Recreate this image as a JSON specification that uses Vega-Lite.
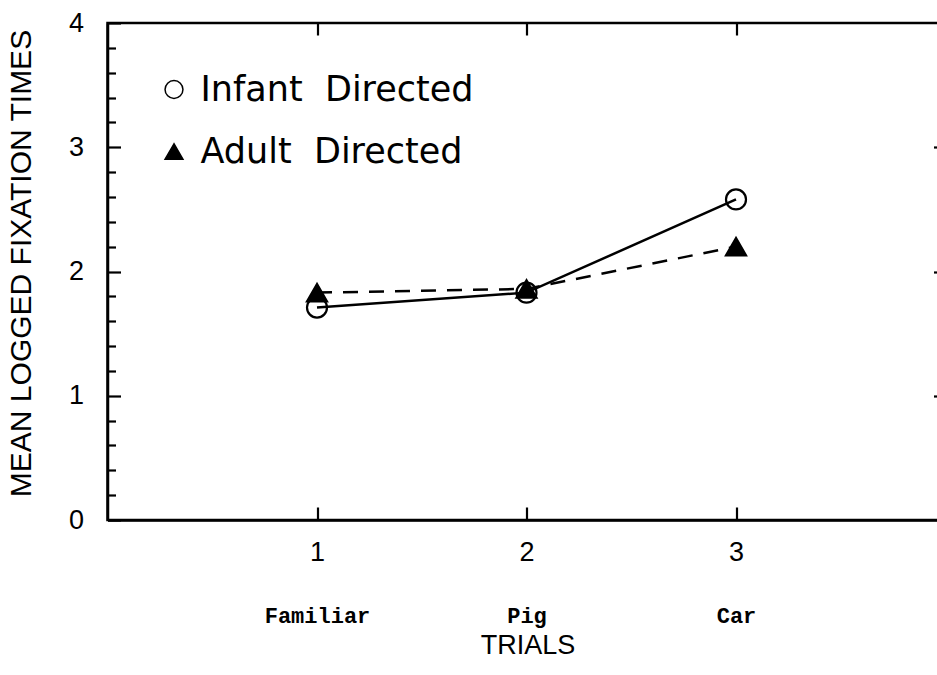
{
  "$schema": "https://vega.github.io/schema/vega-lite/v6.json",
  "width": 838,
  "height": 497,
  "autosize": {"type": "none"},
  "padding": {"left": 107.5, "top": 23, "right": 0, "bottom": 155},
  "background": "white",
  "config": {
    "view": {"stroke": "black", "strokeWidth": 2.5},
    "font": "Liberation Sans",
    "axis": {"grid": false, "domainColor": "black", "domainWidth": 2.5, "tickColor": "black", "tickWidth": 2.2, "labelColor": "black", "titleColor": "black", "titleFontWeight": "normal"}
  },
  "data": {
    "values": [
      {"trial": 1, "series": "Infant Directed", "time": 1.71},
      {"trial": 2, "series": "Infant Directed", "time": 1.83},
      {"trial": 3, "series": "Infant Directed", "time": 2.58},
      {"trial": 1, "series": "Adult Directed", "time": 1.83},
      {"trial": 2, "series": "Adult Directed", "time": 1.86},
      {"trial": 3, "series": "Adult Directed", "time": 2.2}
    ]
  },
  "layer": [
    {
      "transform": [{"filter": "datum.series == 'Infant Directed'"}],
      "mark": {"type": "line", "strokeWidth": 2.5, "color": "black"},
      "encoding": {
        "x": {"field": "trial", "type": "quantitative", "scale": {"domain": [0, 4], "nice": false, "zero": false},
          "axis": {"orient": "bottom", "values": [1, 2, 3], "format": "d", "tickSize": -13, "labelFontSize": 27, "labelPadding": 32, "title": null}},
        "y": {"field": "time", "type": "quantitative", "scale": {"domain": [0, 4], "nice": false},
          "axis": {"orient": "left", "values": [0, 0.2, 0.4, 0.6, 0.8, 1, 1.2, 1.4, 1.6, 1.8, 2, 2.2, 2.4, 2.6, 2.8, 3, 3.2, 3.4, 3.6, 3.8, 4],
            "tickSize": {"condition": {"test": "abs(datum.value - round(datum.value)) < 0.01", "value": -13}, "value": -8},
            "labelExpr": "abs(datum.value - round(datum.value)) < 0.01 ? format(datum.value, 'd') : ''",
            "labelFontSize": 27, "labelPadding": 37,
            "title": "MEAN LOGGED FIXATION TIMES", "titleFontSize": 30, "titleX": -71, "titleY": 240}}
      }
    },
    {
      "transform": [{"filter": "datum.series == 'Adult Directed'"}],
      "mark": {"type": "line", "strokeWidth": 2.5, "color": "black", "strokeDash": [15, 11]},
      "encoding": {
        "x": {"field": "trial", "type": "quantitative", "scale": {"domain": [0, 4], "nice": false, "zero": false}, "axis": null},
        "y": {"field": "time", "type": "quantitative", "scale": {"domain": [0, 4], "nice": false}, "axis": null}
      }
    },
    {
      "mark": {"type": "point", "stroke": "black", "strokeWidth": 2.2, "opacity": 1, "fillOpacity": 1, "size": 400},
      "encoding": {
        "x": {"field": "trial", "type": "quantitative", "scale": {"domain": [0, 4], "nice": false, "zero": false},
          "axis": {"orient": "top", "values": [1, 2, 3], "tickSize": -12, "labels": false, "domain": false, "title": null}},
        "y": {"field": "time", "type": "quantitative", "scale": {"domain": [0, 4], "nice": false},
          "axis": {"orient": "right", "values": [1, 2, 3], "tickSize": -12, "labels": false, "domain": false, "title": null}},
        "shape": {"field": "series", "type": "nominal", "scale": {"domain": ["Infant Directed", "Adult Directed"], "range": ["circle", "triangle-up"]},
          "legend": {"title": null, "orient": "none", "legendX": 49, "legendY": 49, "labelFontSize": 35, "labelFont": "DejaVu Sans", "labelColor": "black", "labelLimit": 0, "symbolSize": 320, "rowPadding": 26, "labelOffset": 9, "padding": 0,
            "labelExpr": "replace(datum.label, ' ', '\u00a0\u00a0')",
            "encode": {"symbols": {"update": {"stroke": {"value": "black"}, "strokeWidth": {"value": 2}}}}}},
        "fill": {"field": "series", "type": "nominal", "scale": {"domain": ["Infant Directed", "Adult Directed"], "range": ["transparent", "black"]},
          "legend": {"title": null, "orient": "none", "legendX": 49, "legendY": 49, "labelFontSize": 35, "labelFont": "DejaVu Sans", "labelColor": "black", "labelLimit": 0, "symbolSize": 320, "rowPadding": 26, "labelOffset": 9, "padding": 0,
            "labelExpr": "replace(datum.label, ' ', '\u00a0\u00a0')",
            "encode": {"symbols": {"update": {"stroke": {"value": "black"}, "strokeWidth": {"value": 2}}}}}}
      }
    },
    {
      "mark": {"type": "point", "opacity": 0},
      "encoding": {
        "x": {"field": "trial", "type": "quantitative", "scale": {"domain": [0, 4], "nice": false, "zero": false},
          "axis": {"orient": "bottom", "values": [1, 2, 3], "ticks": false, "domain": false,
            "labelExpr": "datum.value == 1 ? 'Familiar' : datum.value == 2 ? 'Pig' : 'Car'",
            "labelFont": "Liberation Mono", "labelFontWeight": "bold", "labelFontSize": 22, "labelPadding": 85,
            "title": "TRIALS", "titleFontSize": 27, "titleX": 420, "titleY": 133, "titleBaseline": "alphabetic"}},
        "y": {"field": "time", "type": "quantitative", "scale": {"domain": [0, 4], "nice": false}, "axis": null}
      }
    }
  ],
  "resolve": {"scale": {"x": "independent", "y": "independent"}}
}
